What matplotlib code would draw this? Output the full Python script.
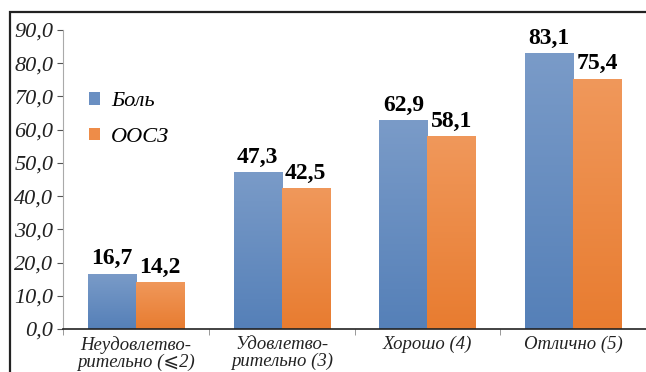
import matplotlib.pyplot as plt
import matplotlib.patches as patches
import numpy as np
from matplotlib.colors import LinearSegmentedColormap

categories = ["Неудовлетво-\nрительно (\u2a7d2)", "Удовлетво-\nрительно (3)", "Хорошо (4)", "Отлично (5)"]
pain = [16.7, 47.3, 62.9, 83.1]
oosz = [14.2, 42.5, 58.1, 75.4]
series_names = ["Боль", "ООСЗ"]
yticks = [0, 10, 20, 30, 40, 50, 60, 70, 80, 90]

serif = ["Liberation Serif", "DejaVu Serif", "DejaVu Sans", "Noto Sans"]

fig = plt.figure(figsize=(6.46, 3.72), dpi=100)
W, H = 646, 372
ax = fig.add_axes([63 / W, 1 - 329 / H, (646 - 63) / W, (329 - 30) / H])

# outer frame (runs past right and bottom edges)
fig.patches.append(patches.Rectangle((10 / W, -0.1), 1.2, 1 - 12 / H + 0.1,
                                     transform=fig.transFigure, fill=False,
                                     edgecolor="#222222", linewidth=1.6))

blue_cmap = LinearSegmentedColormap.from_list("b", ["#5580B8", "#7A9BC8"])
orange_cmap = LinearSegmentedColormap.from_list("o", ["#E87C30", "#F0985B"])

x = np.arange(len(categories))
bw = 0.33


def grad_bar(xc, h, cmap):
    rect = patches.Rectangle((xc - bw / 2, 0), bw, h, facecolor="none", edgecolor="none")
    ax.add_patch(rect)
    grad = np.linspace(0, 1, 100).reshape(-1, 1)
    im = ax.imshow(grad, cmap=cmap, origin="lower", aspect="auto",
                   extent=(xc - bw / 2, xc + bw / 2, 0, h), zorder=2)
    im.set_clip_path(rect)


for i in range(len(categories)):
    grad_bar(x[i] - bw / 2, pain[i], blue_cmap)
    grad_bar(x[i] + bw / 2, oosz[i], orange_cmap)
    ax.text(x[i] - bw / 2, pain[i] + 1.3, f"{pain[i]:.1f}".replace(".", ","),
            ha="center", va="bottom", fontsize=17, fontweight="bold", family=serif)
    ax.text(x[i] + bw / 2, oosz[i] + 1.3, f"{oosz[i]:.1f}".replace(".", ","),
            ha="center", va="bottom", fontsize=17, fontweight="bold", family=serif)

ax.set_xlim(-0.5, len(categories) - 0.5)
ax.set_ylim(0, 90)
ax.set_yticks(yticks)
ax.set_yticklabels([f"{v:.1f}".replace(".", ",") for v in yticks],
                   fontsize=16, style="italic", family=serif, color="#222222")
ax.set_xticks(x)
ax.set_xticklabels(categories, fontsize=13.5, style="italic", family=serif,
                   color="#222222", linespacing=1.0)
ax.set_xticks(np.arange(len(categories) + 1) - 0.5, minor=True)
ax.tick_params(axis="x", which="major", length=0, pad=5)
ax.tick_params(axis="x", which="minor", length=4, color="#888888")
ax.tick_params(axis="y", length=4, color="#555555", pad=3)

for s in ["top", "right"]:
    ax.spines[s].set_visible(False)
ax.spines["left"].set_color("#AAAAAA")
ax.spines["bottom"].set_color("#222222")
ax.spines["bottom"].set_linewidth(1.2)

handles = [patches.Patch(facecolor="#6A8FC2"), patches.Patch(facecolor="#EE8C48")]
ax.legend(handles, series_names, loc="upper left", bbox_to_anchor=(0.01, 0.86),
          frameon=False, handlelength=0.5, handleheight=0.5, handletextpad=0.5,
          labelspacing=0.75, prop={"family": serif, "style": "italic", "size": 16})

fig.savefig("out.png", dpi=100)
